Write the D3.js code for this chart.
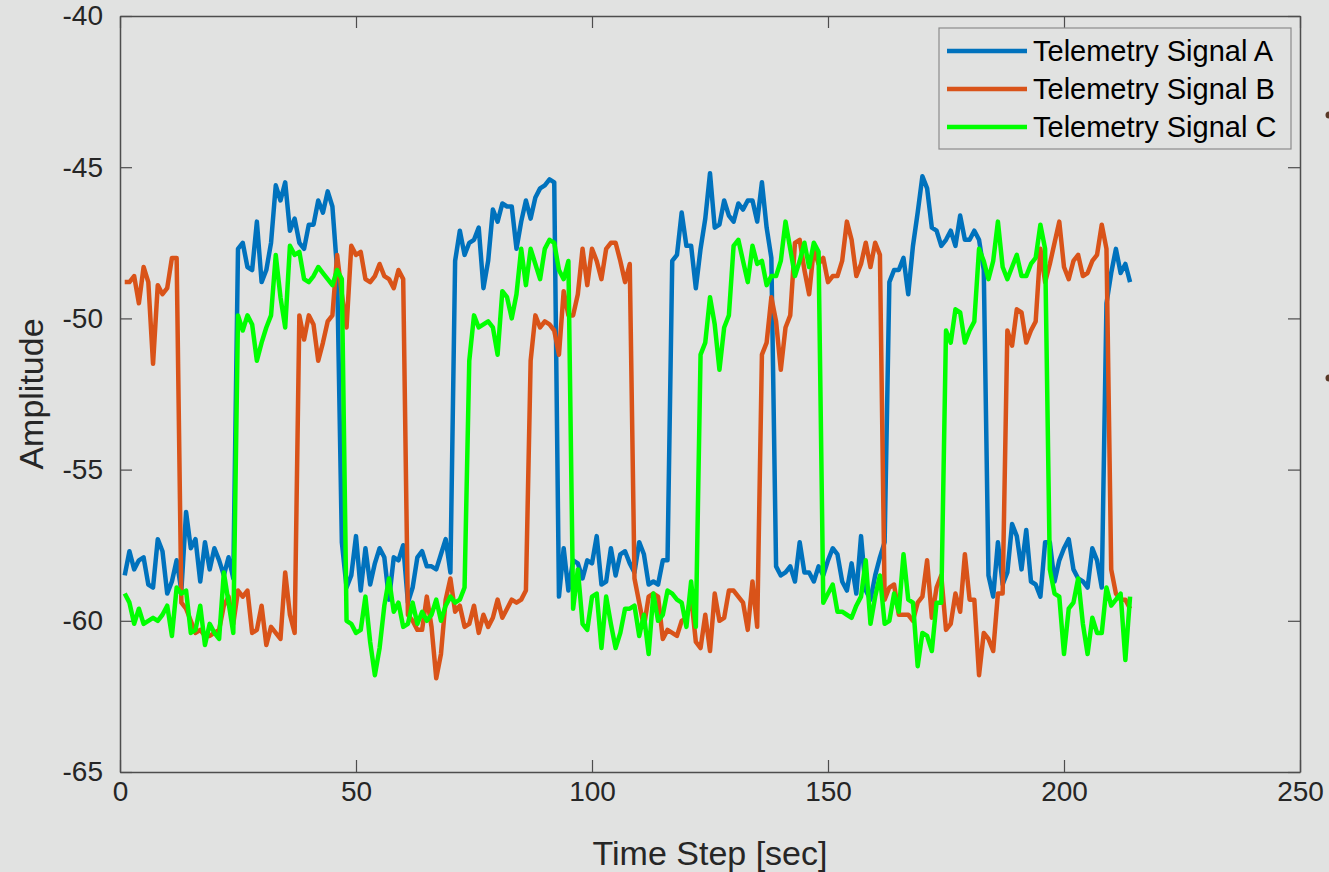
<!DOCTYPE html>
<html>
<head>
<meta charset="utf-8">
<script src="https://cdn.jsdelivr.net/npm/d3@7"></script>
<style>
  body { margin: 0; background: #e1e2e1; }
  svg { display: block; }
</style>
</head>
<body>
<div id="chart"></div>
<script>
var width = 1329;
var height = 872;

var margin = { top: 16, left: 120, bottom: 100, right: 29 };

var xTicks = [0, 50, 100, 150, 200, 250];
var yTicks = [-65, -60, -55, -50, -45, -40];

var seriesNames = ["Telemetry Signal A", "Telemetry Signal B", "Telemetry Signal C"];
var seriesColors = ["#0072bd", "#d95319", "#00ff00"];

// time steps 1..214
var signalA = [
  -58.5, -57.7, -58.3, -58.0, -57.9, -58.8, -58.9, -57.3, -57.7, -59.1,
  -58.7, -58.0, -59.0, -56.4, -57.6, -57.3, -58.7, -57.4, -58.3, -57.6,
  -58.0, -58.5, -57.9, -58.6, -47.7, -47.5, -48.3, -48.4, -46.8, -48.8,
  -48.4, -47.5, -45.6, -46.1, -45.5, -47.1, -46.7, -47.5, -47.7, -46.9,
  -46.9, -46.1, -46.5, -45.8, -46.3, -48.4, -57.4, -58.9, -58.5, -57.2,
  -59.0, -57.6, -58.8, -58.1, -57.6, -57.9, -59.3, -57.9, -58.0, -57.5,
  -59.4, -58.9, -57.9, -57.7, -58.2, -58.2, -58.3, -57.8, -57.3, -58.4,
  -48.1, -47.1, -47.9, -47.5, -47.4, -47.0, -49.0, -48.1, -46.4, -46.8,
  -46.2, -46.3, -46.3, -47.7, -46.8, -46.1, -46.7, -46.0, -45.7, -45.6,
  -45.4, -45.5, -59.2, -57.6, -59.0, -58.0, -58.1, -58.6, -58.0, -58.1,
  -57.2, -58.8, -58.7, -57.6, -58.5, -57.8, -57.7, -58.1, -58.4, -57.4,
  -57.8, -58.8, -58.7, -58.8, -58.0, -58.0, -48.1, -47.9, -46.5, -47.6,
  -47.6, -49.0, -47.7, -46.7, -45.2, -47.0, -46.9, -46.1, -46.6, -46.8,
  -46.2, -46.4, -46.1, -46.1, -46.8, -45.5, -47.0, -48.0, -58.2, -58.5,
  -58.4, -58.2, -58.7, -57.4, -58.4, -58.4, -58.7, -58.2, -58.5, -58.0,
  -57.6, -57.8, -58.7, -59.0, -58.1, -59.1, -57.2, -59.0, -59.3, -58.5,
  -57.9, -57.4, -48.8, -48.4, -48.4, -48.0, -49.2, -47.6, -46.5, -45.3,
  -45.7, -47.0, -47.1, -47.6, -47.4, -47.1, -47.6, -46.6, -47.4, -47.4,
  -47.1, -47.4, -48.4, -58.5, -59.2, -57.4, -58.8, -58.4, -56.8, -57.2,
  -58.3, -57.0, -58.7, -58.8, -59.2, -57.4, -57.4, -58.7, -58.0, -57.6,
  -57.3, -58.3, -58.6, -58.7, -58.9, -57.6, -58.0, -58.9, -49.5, -48.5,
  -47.7, -48.5, -48.2, -48.8
];

var signalB = [
  -48.8, -48.8, -48.6, -49.5, -48.3, -48.8, -51.5, -48.9, -49.2, -49.0,
  -48.0, -48.0, -59.4, -59.6, -60.0, -60.4, -60.3, -60.5, -60.5, -60.4,
  -60.3, -59.5, -59.2, -60.1, -59.0, -59.2, -59.0, -60.4, -60.3, -59.5,
  -60.8, -60.2, -60.4, -60.6, -58.4, -59.8, -60.4, -49.9, -50.7, -49.9,
  -50.2, -51.4, -50.8, -50.1, -49.9, -47.9, -49.2, -50.3, -47.6, -47.9,
  -47.8, -48.7, -48.8, -48.6, -48.2, -48.6, -48.7, -49.0, -48.4, -48.7,
  -59.8, -60.0, -60.3, -60.3, -59.2, -60.2, -61.9, -61.1, -59.3, -58.6,
  -59.7, -59.5, -60.2, -60.1, -59.5, -60.4, -59.8, -60.2, -59.9, -59.3,
  -59.9, -59.6, -59.3, -59.4, -59.3, -59.0, -51.4, -49.9, -50.3, -50.1,
  -50.2, -50.4, -51.2, -49.1, -49.9, -49.9, -49.2, -47.7, -48.9, -47.7,
  -48.1, -48.7, -47.7, -47.5, -47.5, -48.1, -48.8, -48.2, -58.6, -59.4,
  -60.2, -59.2, -59.1, -59.2, -60.6, -60.3, -60.4, -60.5, -60.0, -59.9,
  -59.2, -60.7, -60.9, -59.8, -61.0, -59.1, -60.0, -59.9, -59.0, -59.0,
  -59.2, -59.4, -60.3, -58.7, -60.2, -51.2, -50.8, -49.3, -50.1, -51.7,
  -50.3, -49.9, -47.5, -47.4, -48.4, -49.2, -47.7, -48.2, -48.0, -48.8,
  -48.6, -48.6, -48.1, -46.8, -47.4, -48.6, -48.2, -47.5, -48.3, -47.5,
  -47.9, -59.3, -58.9, -58.8, -59.8, -59.8, -59.8, -60.0, -59.4, -59.2,
  -58.0, -59.9, -58.9, -58.5, -60.3, -60.1, -59.1, -59.7, -57.8, -59.3,
  -59.3, -61.8, -60.4, -60.6, -61.0, -59.1, -59.1, -50.4, -50.9, -49.7,
  -49.8, -50.8, -50.4, -50.1, -47.7, -48.8, -48.2, -47.5, -46.8, -48.3,
  -48.7, -48.1, -47.9, -48.6, -48.5, -48.1, -47.9, -46.9, -47.7, -58.3,
  -59.1, -59.3, -59.3, -59.6
];

var signalC = [
  -59.1, -59.4, -60.1, -59.6, -60.1, -60.0, -59.9, -60.0, -59.8, -59.5,
  -60.5, -58.9, -59.1, -59.0, -60.4, -60.3, -59.5, -60.8, -60.1, -60.4,
  -60.6, -58.4, -59.4, -60.4, -49.9, -50.4, -49.9, -50.2, -51.4, -50.8,
  -50.3, -49.9, -47.9, -49.3, -50.3, -47.6, -47.9, -47.8, -48.7, -48.8,
  -48.6, -48.3, -48.5, -48.7, -48.9, -48.4, -48.7, -60.0, -60.1, -60.4,
  -60.3, -59.2, -60.7, -61.8, -60.9, -59.5, -58.6, -59.7, -59.4, -60.2,
  -60.1, -59.4, -60.1, -59.7, -60.0, -59.8, -59.3, -60.0, -59.5, -59.2,
  -59.4, -59.3, -58.9, -51.4, -49.9, -50.3, -50.2, -50.1, -50.3, -51.2,
  -49.1, -49.3, -50.0, -49.2, -47.7, -48.9, -47.7, -48.2, -48.7, -47.7,
  -47.4, -47.5, -48.4, -48.7, -48.1, -59.6, -58.3, -60.1, -60.3, -59.2,
  -59.1, -60.9, -59.2, -60.1, -60.9, -60.4, -59.6, -59.6, -59.5, -60.5,
  -59.8, -61.1, -59.1, -60.0, -59.8, -59.0, -59.1, -59.3, -59.4, -60.2,
  -58.7, -60.2, -51.2, -50.8, -49.3, -50.2, -51.7, -50.3, -49.9, -47.6,
  -47.4, -48.1, -48.8, -47.6, -48.2, -48.1, -48.9, -48.6, -48.6, -48.1,
  -46.8, -47.7, -48.6, -48.1, -47.5, -48.3, -47.5, -47.8, -59.4, -59.1,
  -58.8, -59.7, -59.7, -59.8, -59.9, -59.5, -59.2, -58.0, -60.1, -59.2,
  -58.5, -60.1, -60.0, -59.1, -59.7, -57.8, -59.3, -59.4, -61.5, -60.4,
  -60.5, -61.0, -59.4, -59.4, -50.4, -50.8, -49.7, -49.8, -50.8, -50.4,
  -50.1, -47.7, -48.1, -48.7, -48.1, -46.8, -48.3, -48.7, -48.3, -47.9,
  -48.6, -48.6, -48.2, -48.0, -46.9, -47.7, -58.3, -59.1, -59.2, -61.1,
  -59.6, -59.4, -58.6, -60.1, -61.1, -59.9, -60.4, -60.4, -58.9, -59.5,
  -59.3, -59.1, -61.3, -59.2
];

var allSeries = [signalA, signalB, signalC];

var svg = d3
  .select("#chart")
  .append("svg")
  .attr("width", width)
  .attr("height", height);

svg.append("rect")
  .attr("width", width)
  .attr("height", height)
  .attr("fill", "#e1e2e1");

var x = d3.scaleLinear().domain([0, 250]).range([margin.left, width - margin.right]);
var y = d3.scaleLinear().domain([-65, -40]).range([height - margin.bottom, margin.top]);

var tickLen = 12;
var axisColor = "#4d4d4d";
var textColor = "#262626";
var font = "'Liberation Sans', Arial, sans-serif";

// axes with inward ticks on all four sides (box style)
var bottomAxis = d3.axisBottom(x).tickValues(xTicks).tickSizeInner(-tickLen).tickSizeOuter(0).tickPadding(9);
var leftAxis = d3.axisLeft(y).tickValues(yTicks).tickSizeInner(-tickLen).tickSizeOuter(0).tickPadding(17)
  .tickFormat(function(d) { return d; });
var topAxis = d3.axisTop(x).tickValues(xTicks).tickSizeInner(-tickLen).tickSizeOuter(0).tickFormat("");
var rightAxis = d3.axisRight(y).tickValues(yTicks).tickSizeInner(-tickLen).tickSizeOuter(0).tickFormat("");

var gx = svg.append("g").attr("transform", "translate(0," + y(-65) + ")").call(bottomAxis);
var gy = svg.append("g").attr("transform", "translate(" + x(0) + ",0)").call(leftAxis);
var gt = svg.append("g").attr("transform", "translate(0," + y(-40) + ")").call(topAxis);
var gr = svg.append("g").attr("transform", "translate(" + x(250) + ",0)").call(rightAxis);

[gx, gy, gt, gr].forEach(function(g) {
  g.selectAll("path").attr("stroke", axisColor).attr("stroke-width", 1.5);
  g.selectAll("line").attr("stroke", axisColor).attr("stroke-width", 1.2);
  g.selectAll("text")
    .attr("fill", textColor)
    .attr("font-family", font)
    .attr("font-size", "28px");
});

// lines
var line = d3.line()
  .x(function(d, i) { return x(i + 1); })
  .y(function(d) { return y(d); });

svg.selectAll(".series")
  .data(allSeries)
  .enter()
  .append("path")
  .attr("class", "series")
  .attr("d", line)
  .attr("fill", "none")
  .attr("stroke", function(d, i) { return seriesColors[i]; })
  .attr("stroke-width", 4.5)
  .attr("stroke-linejoin", "round");

// axis labels
svg.append("text")
  .attr("x", (x(0) + x(250)) / 2)
  .attr("y", 865)
  .attr("text-anchor", "middle")
  .attr("font-family", font)
  .attr("font-size", "34px")
  .attr("fill", textColor)
  .text("Time Step [sec]");

svg.append("text")
  .attr("transform", "translate(43," + y(-52.5) + ") rotate(-90)")
  .attr("text-anchor", "middle")
  .attr("font-family", font)
  .attr("font-size", "34px")
  .attr("fill", textColor)
  .text("Amplitude");

// legend
var legend = svg.append("g").attr("transform", "translate(939,28)");

legend.append("rect")
  .attr("width", 352)
  .attr("height", 121)
  .attr("fill", "#e1e2e1")
  .attr("stroke", "#8c8c8c")
  .attr("stroke-width", 1.2);

var items = legend.selectAll(".item")
  .data(seriesNames)
  .enter()
  .append("g")
  .attr("class", "item")
  .attr("transform", function(d, i) { return "translate(0," + (23 + i * 38) + ")"; });

items.append("line")
  .attr("x1", 8)
  .attr("x2", 88)
  .attr("stroke", function(d, i) { return seriesColors[i]; })
  .attr("stroke-width", 4.5);

items.append("text")
  .attr("x", 94)
  .attr("y", 10)
  .attr("font-family", font)
  .attr("font-size", "29px")
  .attr("fill", "#000")
  .text(function(d) { return d; });

// cut-off markers at the right edge
svg.selectAll(".edge-dot")
  .data([115, 378])
  .enter()
  .append("circle")
  .attr("class", "edge-dot")
  .attr("cx", 1329)
  .attr("cy", function(d) { return d; })
  .attr("r", 3.5)
  .attr("fill", "#5a3a28");
</script>
</body>
</html>
